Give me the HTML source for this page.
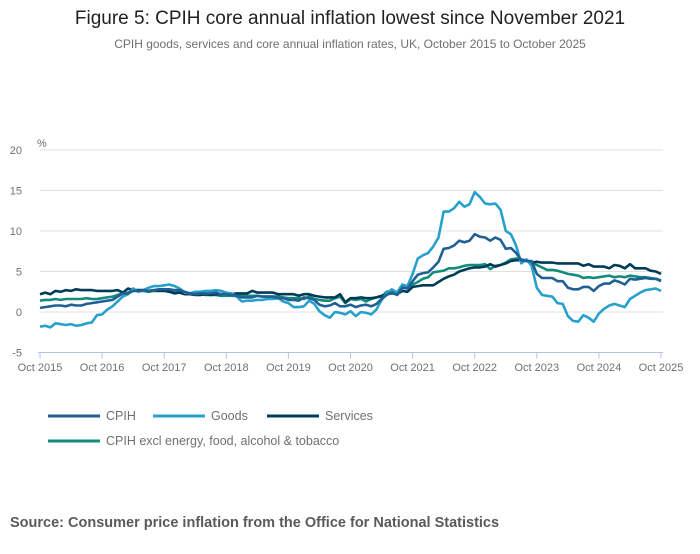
<!DOCTYPE html>
<html><head><meta charset="utf-8"><style>
body{margin:0;background:#fff;width:700px;height:549px;overflow:hidden;font-family:"Liberation Sans",sans-serif}
</style></head><body>
<svg width="700" height="549" xmlns="http://www.w3.org/2000/svg">
<text x="350" y="24" text-anchor="middle" font-size="19" fill="#222">Figure 5: CPIH core annual inflation lowest since November 2021</text>
<text x="350" y="48" text-anchor="middle" font-size="12" fill="#707071">CPIH goods, services and core annual inflation rates, UK, October 2015 to October 2025</text>
<text x="37" y="147" font-size="11" fill="#707071">%</text>
<g id="grid"></g><g id="xaxis"></g><g id="series"></g>
<g font-size="12.5" fill="#707071">
<g><line x1="48" y1="416" x2="100" y2="416" stroke="#206095" stroke-width="3"/><text x="106" y="420">CPIH</text></g>
<g><line x1="153" y1="416" x2="205" y2="416" stroke="#27a0cc" stroke-width="3"/><text x="211" y="420">Goods</text></g>
<g><line x1="267" y1="416" x2="319" y2="416" stroke="#003c57" stroke-width="3"/><text x="325" y="420">Services</text></g>
<g><line x1="48" y1="441" x2="100" y2="441" stroke="#118c7b" stroke-width="3"/><text x="106" y="445">CPIH excl energy, food, alcohol &amp; tobacco</text></g>
</g>
<text x="10" y="527" font-size="14.5" font-weight="bold" fill="#5a5a5c">Source: Consumer price inflation from the Office for National Statistics</text>
</svg>
<script>
const yTicks=[20,15,10,5,0,-5];
const xLabels=["Oct 2015","Oct 2016","Oct 2017","Oct 2018","Oct 2019","Oct 2020","Oct 2021","Oct 2022","Oct 2023","Oct 2024","Oct 2025"];
const cpih=[0.5,0.6,0.7,0.8,0.8,0.7,0.9,0.8,0.8,1.0,1.1,1.2,1.3,1.4,1.5,1.9,2.3,2.3,2.6,2.6,2.7,2.6,2.7,2.8,2.8,2.8,2.7,2.7,2.5,2.3,2.2,2.3,2.3,2.3,2.4,2.2,2.2,2.1,2.0,1.8,1.8,1.8,2.0,1.9,1.9,1.9,1.7,1.7,1.5,1.5,1.4,1.8,1.7,1.5,0.9,0.7,0.8,1.1,0.7,0.7,0.9,0.6,0.8,0.9,0.7,1.0,1.6,2.1,2.4,2.1,3.0,2.9,3.8,4.6,4.8,4.9,5.5,6.2,7.8,7.9,8.2,8.8,8.6,8.8,9.6,9.3,9.2,8.8,9.2,8.9,7.8,7.9,7.3,6.4,6.3,6.3,4.7,4.2,4.2,4.2,3.8,3.8,3.0,2.8,2.8,3.1,3.1,2.6,3.2,3.5,3.5,3.9,3.7,3.4,4.1,4.0,4.1,4.2,4.1,4.1,3.8];
const goods=[-1.8,-1.7,-1.9,-1.4,-1.5,-1.6,-1.5,-1.7,-1.6,-1.4,-1.3,-0.4,-0.3,0.3,0.7,1.3,1.9,2.2,2.9,2.5,2.7,3.0,3.2,3.2,3.3,3.4,3.2,2.9,2.4,2.3,2.5,2.5,2.6,2.6,2.7,2.6,2.4,2.3,1.9,1.3,1.4,1.4,1.5,1.5,1.6,1.6,1.7,1.3,1.1,0.6,0.6,0.7,1.4,1.0,0.1,-0.4,-0.7,0.0,-0.1,-0.3,0.1,-0.5,0.0,-0.1,-0.3,0.3,1.5,2.3,2.8,2.4,3.4,3.2,4.7,6.6,7.0,7.3,8.1,9.2,12.4,12.4,12.8,13.6,13.0,13.3,14.8,14.2,13.4,13.3,13.4,12.6,10.0,9.6,8.2,6.0,6.5,5.7,3.0,2.1,2.0,1.9,1.1,1.0,-0.5,-1.1,-1.2,-0.4,-0.7,-1.2,-0.2,0.4,0.8,1.0,0.8,0.6,1.6,2.0,2.4,2.7,2.8,2.9,2.6];
const services=[2.2,2.4,2.2,2.6,2.5,2.7,2.6,2.8,2.7,2.7,2.7,2.6,2.6,2.6,2.6,2.7,2.4,2.9,2.7,2.7,2.7,2.6,2.7,2.6,2.6,2.5,2.3,2.4,2.2,2.2,2.1,2.1,2.2,2.1,2.2,2.2,2.2,2.2,2.3,2.3,2.3,2.6,2.4,2.4,2.4,2.4,2.2,2.2,2.2,2.2,2.0,2.2,2.2,2.0,1.9,1.8,1.8,1.8,2.2,1.2,1.7,1.7,1.8,1.7,1.7,1.8,2.0,2.2,2.3,2.2,2.6,2.5,3.1,3.2,3.3,3.3,3.3,3.7,4.1,4.4,4.6,5.0,5.2,5.4,5.5,5.5,5.6,5.9,5.6,5.8,6.0,6.3,6.4,6.4,6.4,6.1,6.2,6.1,6.1,6.1,6.0,6.0,6.0,6.0,6.0,5.7,5.9,5.6,5.6,5.6,5.4,5.8,5.7,5.4,5.9,5.4,5.4,5.4,5.1,5.0,4.7];
const core=[1.4,1.5,1.5,1.6,1.5,1.6,1.6,1.6,1.6,1.7,1.6,1.6,1.7,1.8,1.9,2.1,2.3,2.4,2.7,2.6,2.6,2.5,2.6,2.6,2.7,2.7,2.6,2.5,2.4,2.3,2.3,2.2,2.1,2.1,2.1,2.0,2.0,2.0,2.0,2.0,2.0,2.0,2.0,1.9,1.9,1.9,1.9,1.8,1.7,1.7,1.7,1.6,1.9,1.6,1.5,1.4,1.4,1.7,1.9,1.1,1.6,1.5,1.6,1.3,1.6,1.8,1.9,2.5,2.6,2.4,3.1,3.0,3.4,3.7,4.1,4.3,4.9,5.0,5.1,5.4,5.4,5.5,5.7,5.8,5.8,5.8,5.9,5.3,5.7,5.8,6.1,6.5,6.6,6.5,6.3,6.1,5.8,5.5,5.2,5.2,5.1,4.9,4.7,4.6,4.5,4.2,4.3,4.2,4.3,4.4,4.5,4.3,4.4,4.3,4.5,4.4,4.3,4.3,4.2,4.1,3.9];
const X0=40,X1=661,Y0=312,PX=8.1;
const xs=i=>X0+(X1-X0)*i/120;
const ys=v=>Y0-v*PX;
const NS="http://www.w3.org/2000/svg";
function mk(t,a,p){const e=document.createElementNS(NS,t);for(const k in a)e.setAttribute(k,a[k]);p.appendChild(e);return e;}
const grid=document.getElementById('grid');
yTicks.forEach(v=>{
  const l=mk('line',{x1:X0,x2:X1+2,y1:ys(v),y2:ys(v),stroke:'#e0e0e0','stroke-width':1},grid);
  
  
  const t=mk('text',{x:22,y:ys(v)+4,'text-anchor':'end','font-size':11,fill:'#707071'},grid);
  t.textContent=v;
  
  
});
const xa=document.getElementById('xaxis');
const base=mk('line',{x1:X0-2,x2:X1+2,y1:ys(-5),y2:ys(-5),stroke:'#b3c4e0','stroke-width':1},xa);


xLabels.forEach((s,i)=>{
  const x=xs(i*12);
  mk('line',{x1:x,x2:x,y1:ys(-5),y2:ys(-5)+6,stroke:'#b3c4e0'},xa);
  const t=mk('text',{x:x,y:371,'text-anchor':'middle','font-size':11,fill:'#707071'},xa);
  t.textContent=s;
  
  
});
const sg=document.getElementById('series');
[[core,'#118c7b','line-core'],[services,'#003c57','line-services'],[goods,'#27a0cc','line-goods'],[cpih,'#206095','line-cpih']].forEach(([d,c,n])=>{
  const p=mk('path',{d:d.map((v,i)=>(i?'L':'M')+xs(i).toFixed(1)+','+ys(v).toFixed(1)).join(''),fill:'none',stroke:c,'stroke-width':2.6,'stroke-linejoin':'round'},sg);
  
  
});
</script>
</body></html>
